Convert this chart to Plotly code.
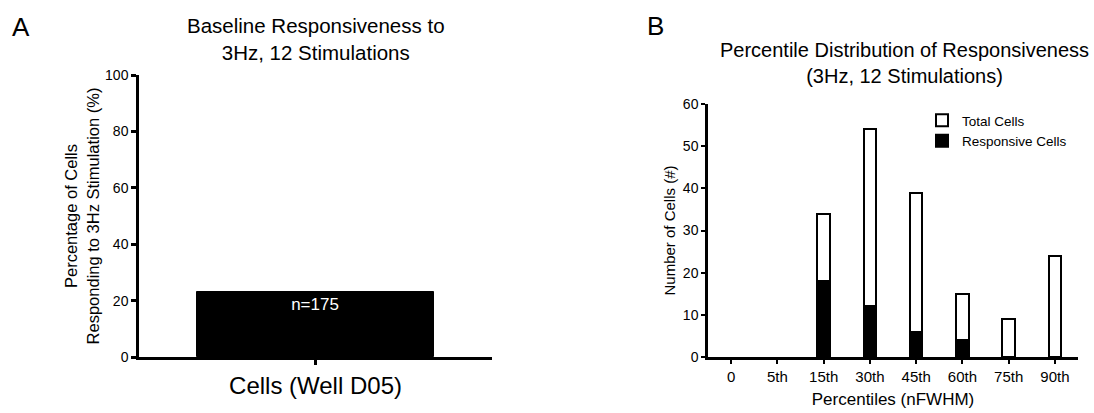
import plotly.graph_objects as go

# Panel A data
a_categories = ["Cells (Well D05)"]
a_values = [23]
a_label = ["n=175"]
a_yticks = [0, 20, 40, 60, 80, 100]

# Panel B data
b_categories = ["0", "5th", "15th", "30th", "45th", "60th", "75th", "90th"]
b_total = [0, 0, 34, 54, 39, 15, 9, 24]
b_responsive = [0, 0, 18, 12, 6, 4, 0, 0]
b_yticks = [0, 10, 20, 30, 40, 50, 60]

W, H = 1094, 413
FONT = "Liberation Sans, Arial, Helvetica, sans-serif"


def px(x):
    return x / W


def py(y):
    return 1 - y / H


def drawn(vals):
    # zero-height bars are not drawn in the reference
    return [v if v > 0 else None for v in vals]


fig = go.Figure()

fig.add_trace(go.Bar(
    x=a_categories, y=a_values, text=a_label, textposition="inside",
    insidetextanchor="end", textfont=dict(color="white", size=17, family=FONT),
    marker=dict(color="black", line=dict(color="black", width=1)),
    width=0.67, xaxis="x", yaxis="y", showlegend=False, hoverinfo="y",
))

fig.add_trace(go.Bar(
    x=b_categories, y=drawn(b_total), name="Total Cells",
    marker=dict(color="white", line=dict(color="black", width=2)),
    width=0.27, xaxis="x2", yaxis="y2",
))
fig.add_trace(go.Bar(
    x=b_categories, y=drawn(b_responsive), name="Responsive Cells",
    marker=dict(color="black", line=dict(color="black", width=2)),
    width=0.27, xaxis="x2", yaxis="y2",
))

base = dict(showgrid=False, zeroline=False, showline=True, linecolor="black",
            ticks="outside", tickcolor="black", automargin=False)

fig.update_layout(
    width=W, height=H, margin=dict(l=0, r=0, t=0, b=0),
    paper_bgcolor="white", plot_bgcolor="white", barmode="overlay",
    font=dict(family=FONT, color="black"),
    xaxis=dict(domain=[px(139), px(492)], range=[-0.5, 0.5], anchor="y",
               linewidth=2.5, ticklen=5, tickwidth=2.5, **base,
               tickfont=dict(family=FONT, size=24, color="black")),
    yaxis=dict(domain=[py(357), py(75)], range=[0, 100], anchor="x",
               tickvals=a_yticks, linewidth=2.5, ticklen=5, tickwidth=2.5, **base,
               tickfont=dict(family=FONT, size=14, color="black"),
               title=dict(text="Percentage of Cells<br>Responding to 3Hz Stimulation (%)",
                          font=dict(family=FONT, size=16.5, color="black"), standoff=2)),
    xaxis2=dict(domain=[px(708), px(1078)], range=[-0.5, 7.5], anchor="y2",
                categoryorder="array", categoryarray=b_categories,
                linewidth=2.5, ticklen=4, tickwidth=2, **base,
                tickfont=dict(family=FONT, size=15, color="black"),
                title=dict(text="Percentiles (nFWHM)", font=dict(family=FONT, size=17, color="black"),
                           standoff=10)),
    yaxis2=dict(domain=[py(357), py(104)], range=[0, 60], anchor="x2",
                tickvals=b_yticks, linewidth=2.5, ticklen=4, tickwidth=2, **base,
                tickfont=dict(family=FONT, size=14, color="black"),
                title=dict(text="Number of Cells (#)", font=dict(family=FONT, size=15, color="black"),
                           standoff=4)),
    legend=dict(x=px(922), y=py(105), xanchor="left", yanchor="top",
                bgcolor="rgba(0,0,0,0)", font=dict(family=FONT, size=13.5, color="black"),
                tracegroupgap=0, itemwidth=30),
    bargap=0,
)

annotations = [
    dict(text="A", x=px(10), y=py(27), xanchor="left", yanchor="middle", font=dict(size=26)),
    dict(text="B", x=px(645), y=py(26), xanchor="left", yanchor="middle", font=dict(size=26)),
    dict(text="Baseline Responsiveness to<br>3Hz, 12 Stimulations", x=px(316), y=py(39),
         xanchor="center", yanchor="middle", font=dict(size=20.5)),
    dict(text="Percentile Distribution of Responsiveness<br>(3Hz, 12 Stimulations)", x=px(904), y=py(63),
         xanchor="center", yanchor="middle", font=dict(size=20)),
]
for a in annotations:
    a.update(xref="paper", yref="paper", showarrow=False)
    a["font"].update(family=FONT, color="black")
fig.update_layout(annotations=annotations)

fig.write_html("out.html", config={"displayModeBar": False},
               post_script="document.body.style.margin='0';document.body.style.padding='0';")
